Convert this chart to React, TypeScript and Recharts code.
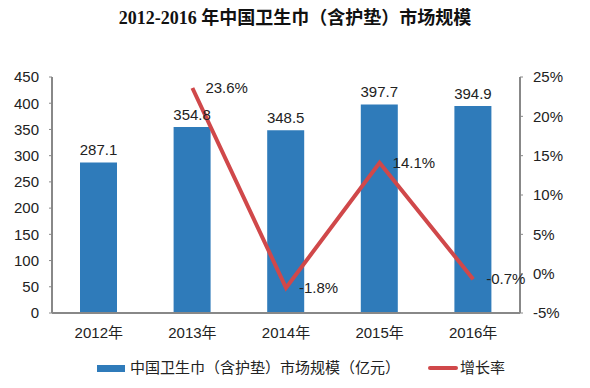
import {
  Bar,
  ComposedChart,
  LabelList,
  Line,
  XAxis,
  YAxis
} from "recharts";

const years = ["2012年", "2013年", "2014年", "2015年", "2016年"];
const marketSize = [287.1, 354.8, 348.5, 397.7, 394.9];
const growthRate = [null, 23.6, -1.8, 14.1, -0.7];
const leftTicks = [0, 50, 100, 150, 200, 250, 300, 350, 400, 450];
const rightTicks = [-5, 0, 5, 10, 15, 20, 25];

const title = "2012-2016 年中国卫生巾（含护垫）市场规模";
const barName = "中国卫生巾（含护垫）市场规模（亿元）";
const lineName = "增长率";

const BLUE = "#2F7BBA";
const RED = "#D0484A";
const TEXT = "#222";
const AXIS = "#888";
const FONT = "'Liberation Sans', Arial, 'Noto Sans CJK SC', sans-serif";

const data = years.map((y, i) => ({
  year: y,
  size: marketSize[i],
  rate: growthRate[i]
}));

const tickStyle = { fill: TEXT, fontSize: 15, fontFamily: FONT };

const App = () => {
  return (
    <div style={{ position: "absolute", left: 0, top: 0, width: 590, height: 388, background: "#fff" }}>
      <div
        style={{
          position: "absolute",
          top: 5,
          left: 0,
          width: 590,
          textAlign: "center",
          fontFamily: "'Liberation Serif', 'Noto Sans CJK SC', serif",
          fontWeight: "bold",
          fontSize: 18,
          lineHeight: "26px",
          color: "#111"
        }}
      >
        {title}
      </div>
      <ComposedChart
        width={590}
        height={388}
        data={data}
        margin={{ top: 77, right: 8, left: 8, bottom: 45 }}
      >
        <XAxis
          dataKey="year"
          tick={tickStyle}
          tickLine={false}
          tickSize={0}
          tickMargin={14}
          axisLine={{ stroke: AXIS, strokeWidth: 2 }}
          height={30}
        />
        <YAxis
          yAxisId="left"
          domain={[0, 450]}
          ticks={leftTicks}
          tick={tickStyle}
          tickSize={3}
          tickMargin={10}
          tickLine={{ stroke: AXIS }}
          axisLine={{ stroke: AXIS, strokeWidth: 2 }}
          width={44}
          interval={0}
        />
        <YAxis
          yAxisId="right"
          orientation="right"
          domain={[-5, 25]}
          ticks={rightTicks}
          tickFormatter={(v) => `${v}%`}
          tick={{ ...tickStyle, textAnchor: "start" }}
          tickSize={3}
          tickMargin={10}
          tickLine={{ stroke: AXIS }}
          axisLine={{ stroke: AXIS, strokeWidth: 2 }}
          width={62}
          interval={0}
        />
        <Bar
          yAxisId="left"
          dataKey="size"
          name={barName}
          fill={BLUE}
          barSize={37}
          isAnimationActive={false}
        >
          <LabelList
            dataKey="size"
            position="top"
            offset={7}
            fill={TEXT}
            fontSize={15}
            fontFamily={FONT}
          />
        </Bar>
        <Line
          yAxisId="right"
          dataKey="rate"
          name={lineName}
          stroke={RED}
          strokeWidth={4}
          dot={false}
          activeDot={false}
          connectNulls={false}
          isAnimationActive={false}
        >
          <LabelList
            dataKey="rate"
            position="right"
            offset={13}
            fill={TEXT}
            fontSize={15}
            fontFamily={FONT}
            formatter={(v) => (v == null ? "" : `${v}%`)}
          />
        </Line>
      </ComposedChart>
      <div
        style={{
          position: "absolute",
          top: 358,
          left: 0,
          width: 590,
          height: 20,
          fontFamily: FONT,
          fontSize: 15,
          color: TEXT
        }}
      >
        <span style={{ position: "absolute", left: 97, top: 7, width: 28, height: 7, background: BLUE }} />
        <span style={{ position: "absolute", left: 130, top: 0, lineHeight: "20px", whiteSpace: "nowrap" }}>{barName}</span>
        <span style={{ position: "absolute", left: 428, top: 8, width: 30, height: 4, background: RED, borderRadius: 2 }} />
        <span style={{ position: "absolute", left: 460, top: 0, lineHeight: "20px", whiteSpace: "nowrap" }}>{lineName}</span>
      </div>
    </div>
  );
};

export default App;
